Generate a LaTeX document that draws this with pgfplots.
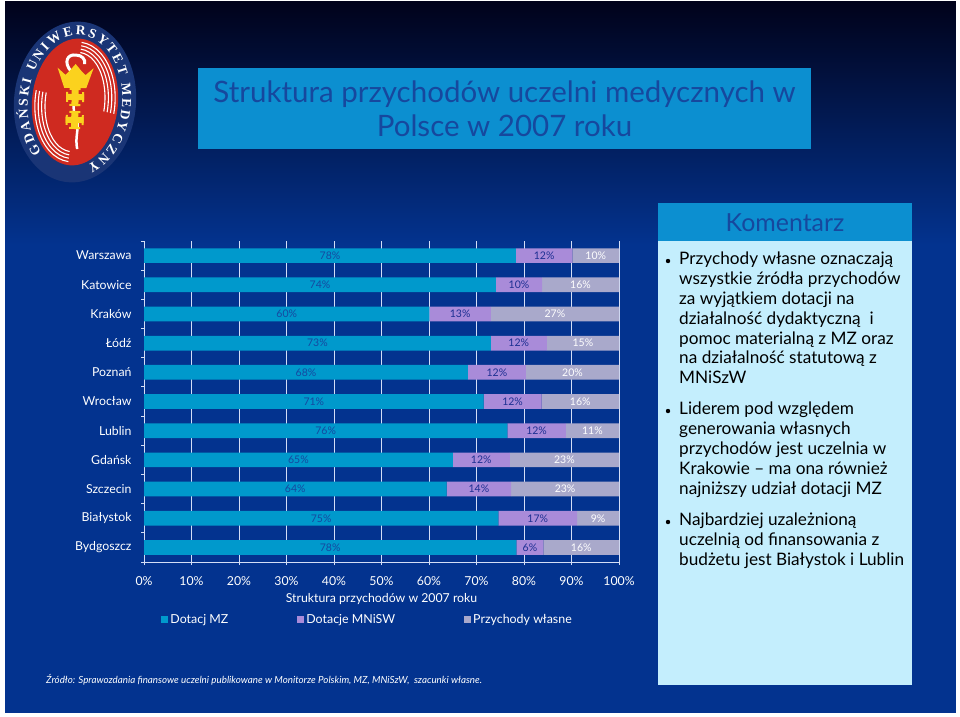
\documentclass[border=0pt]{standalone}
\usepackage{fontspec}
\setmainfont{Lato}
\newfontfamily\serif{Liberation Serif}
\usepackage{pgfplots}
\usepackage{pgfplotstable}
\pgfplotsset{compat=1.18}
\usetikzlibrary{decorations.text}

\definecolor{bgblue}{HTML}{03338F}
\definecolor{bgtop}{HTML}{01021A}
\definecolor{headblue}{HTML}{0C8FD0}
\definecolor{titleblue}{HTML}{16489E}
\definecolor{boxblue}{HTML}{C4EEFD}
\definecolor{mz}{HTML}{0099CC}
\definecolor{nisw}{HTML}{A98BD9}
\definecolor{wlasne}{HTML}{A9A9CB}
\definecolor{gridc}{HTML}{D4DEF6}
\definecolor{labmz}{HTML}{1648A0}
\definecolor{lab}{HTML}{1C2F92}
\definecolor{logoblue}{HTML}{1A3576}
\definecolor{logored}{HTML}{CF2A20}
\definecolor{logogold}{HTML}{FBD21E}

\pgfplotstableread{
y mz nisw wl lmz lnisw lwl
0 78.3 11.9 9.8 78 12 10
1 74.1 9.7 16.2 74 10 16
2 60.1 12.9 27.0 60 13 27
3 73.0 11.8 15.2 73 12 15
4 68.2 12.2 19.6 68 12 20
5 71.5 12.2 16.3 71 12 16
6 76.5 12.3 11.2 76 12 11
7 65.0 12.0 23.0 65 12 23
8 63.7 13.6 22.7 64 14 23
9 74.6 16.6 8.8 75 17 9
10 78.4 5.7 15.9 78 6 16
}\shares

\pgfplotsset{
    sq legend/.style={legend image code/.code={\fill[##1] (0pt,-3.5pt) rectangle (7pt,3.5pt);}},
    seg/.style={
        fill=#1, draw=none, sq legend,
        point meta=explicit,
        nodes near coords={\pgfmathprintnumber[fixed,precision=0]{\pgfplotspointmeta}\%},
        every node near coord/.append style={anchor=center, font=\fontsize{10.5}{13}\selectfont},
    },
    plotbox/.style={
        at={(144pt,-562pt)}, anchor=south west,
        scale only axis,
        width=475pt, height=321pt,
        xmin=0, xmax=100,
        ymin=-0.5, ymax=10.5,
        y dir=reverse,
    },
}

\begin{document}
\begin{tikzpicture}[x=1pt,y=-1pt]
\useasboundingbox (0,0) rectangle (960,716);
\shade[top color=bgtop, bottom color=bgblue] (0,0) rectangle (960,245);
\fill[bgblue] (0,244.5) rectangle (960,716);
% white page edge
\fill[white] (0,0) rectangle (4.5,716);
\fill[white] (956,0) rectangle (960,716);
\fill[white] (0,0) rectangle (960,1);
\fill[white] (0,713) rectangle (960,716);

% logo
\begin{scope}[shift={(75,102)}, y=1pt, rotate=-5]
    \fill[logoblue] (0,0) ellipse [x radius=61, y radius=80.5];
    \fill[logored] (0,0) ellipse [x radius=43, y radius=63.5];
    \foreach \r in {0,1,2,3} {
        \draw[white, line width=1.1pt] (88:{40-3.4*\r} and {60-3.4*\r}) arc [start angle=88, end angle=-8, x radius={40-3.4*\r}, y radius={60-3.4*\r}];
        \draw[white, line width=1.1pt] (-92:{40-3.4*\r} and {60-3.4*\r}) arc [start angle=-92, end angle=-188, x radius={40-3.4*\r}, y radius={60-3.4*\r}];
    }
    \path[decorate, decoration={text along path, text align={fit to path},
        text={|\fontsize{13.5}{14}\selectfont\serif\bfseries\color{white}|GDAŃSKI UNIWERSYTET MEDYCZNY}}]
        (232:47 and 67) arc [start angle=232, end angle=-68, x radius=47, y radius=67];
    \begin{scope}[rotate=4]
    % staff and serpent
    \draw[white, line width=3pt] (-4,30) .. controls (-13,40) and (-8,48) .. (0,47) .. controls (6,47) and (10,43) .. (9,38);
    \draw[white, line width=2.5pt] (-3,24) .. controls (6,14) and (-6,-4) .. (1,-14) .. controls (6,-24) and (0,-34) .. (3,-47);
    % crown
    \fill[logogold] (-18,34) -- (-10,27) -- (-6,31) -- (0,38) -- (6,31) -- (10,27) -- (18,34) -- (11,14) -- (-11,14) -- cycle;
    % crosses
    \foreach \c in {5,-18} {
        \fill[logogold] (-9,{\c+3}) rectangle (9,{\c-3});
        \fill[logogold] (-3.5,{\c+9}) rectangle (3.5,{\c-9});
        \fill[logogold] (-9,{\c+5}) rectangle (-7,{\c-5});
        \fill[logogold] (7,{\c+5}) rectangle (9,{\c-5});
        \fill[logogold] (-5.5,{\c+9}) rectangle (5.5,{\c+7});
        \fill[logogold] (-5.5,{\c-7}) rectangle (5.5,{\c-9});
    }
    \end{scope}
\end{scope}

% title
\fill[headblue] (198,68) rectangle (811,149);
\node[anchor=center, align=center, text=titleblue, font=\fontsize{29.5}{34.5}\selectfont] at (504.5,108.5)
    {Struktura przychodów uczelni medycznych w\\Polsce w 2007 roku};

% comment box
\fill[boxblue] (658,241) rectangle (912,685);
\fill[headblue] (658,203) rectangle (912,241);
\node[text=titleblue, font=\fontsize{24.9}{26}\selectfont] at (785,223) {Komentarz};
\foreach \yy/\txt in {
    261/{Przychody własne oznaczają\\wszystkie źródła przychodów\\za wyjątkiem dotacji na\\działalność dydaktyczną\ \ i\\pomoc materialną z MZ oraz\\na działalność statutową z\\MNiSzW},
    411/{Liderem pod względem\\generowania własnych\\przychodów jest uczelnia w\\Krakowie -- ma ona również\\najniższy udział dotacji MZ},
    522/{Najbardziej uzależnioną\\uczelnią od finansowania z\\budżetu jest Białystok i Lublin}} {
    \node[anchor=north west, inner sep=0pt, align=left, text=black, font=\fontsize{17.2}{19.8}\selectfont] at (679,\yy-9) {\txt};
    \fill[black] (668,\yy) circle (2.2);
}

% source
\node[anchor=west, inner sep=0pt, text=white, font=\fontsize{9.8}{12}\selectfont\itshape] at (46,680)
    {Źródło: Sprawozdania finansowe uczelni publikowane w Monitorze Polskim, MZ, MNiSzW,\ \ szacunki własne.};

\begin{axis}[
    plotbox,
    xbar stacked,
    bar width=14.7pt,
    axis lines=left,
    axis line style={-, gridc, line width=0.9pt},
    tick align=outside,
    xtick={0,10,...,100},
    xticklabel={\pgfmathprintnumber{\tick}\%},
    /pgf/number format/assume math mode=true,
    ytick={0,...,10},
    yticklabels={Warszawa,Katowice,Kraków,Łódź,Poznań,Wrocław,Lublin,Gdańsk,Szczecin,Białystok,Bydgoszcz},
    minor ytick={-0.5,0.5,...,10.5},
    major tick length=3pt,
    minor tick length=3pt,
    y tick style={draw=none},
    x tick style={gridc, line width=0.9pt},
    minor y tick style={draw=gridc, line width=0.9pt},
    xmajorgrids=true,
    major x grid style={draw=gridc, line width=1pt},
    ticklabel style={text=white, font=\fontsize{12.3}{15}\selectfont},
    yticklabel style={xshift=-6pt},
    xticklabel style={yshift=-8pt},
    xlabel={Struktura przychodów w 2007 roku},
    xlabel style={text=white, font=\fontsize{12.3}{15}\selectfont, yshift=-1pt},
    legend columns=3,
    legend style={at={(0.03,-0.179)}, anchor=west, draw=none, fill=none, text=white,
        font=\fontsize{12.4}{15}\selectfont, /tikz/every even column/.append style={column sep=67pt}},
]
\addplot[seg=mz, every node near coord/.append style={text=labmz}] table[x=mz, y=y, meta=lmz] {\shares};
\addlegendentry{Dotacj MZ}
\addplot[seg=nisw, every node near coord/.append style={text=lab}] table[x=nisw, y=y, meta=lnisw] {\shares};
\addlegendentry{Dotacje MNiSW}
\addplot[seg=wlasne, every node near coord/.append style={text=white}] table[x=wl, y=y, meta=lwl] {\shares};
\addlegendentry{Przychody własne}
\end{axis}
\end{tikzpicture}
\end{document}
